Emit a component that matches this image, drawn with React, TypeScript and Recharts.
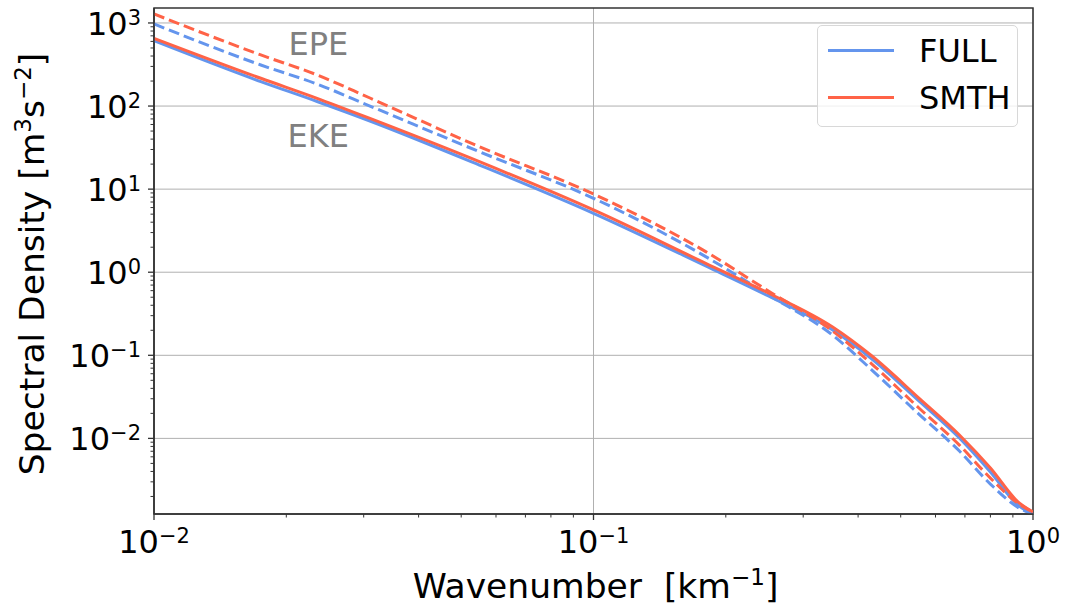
import React from "react";
import {
  LineChart,
  Line,
  XAxis,
  YAxis,
  CartesianGrid,
  Legend,
  ReferenceArea,
  ReferenceDot,
  Label,
} from "recharts";

// wavenumber [km^-1] and spectral densities
const waveNumber = [0.01, 0.0175, 0.0235, 0.031, 0.055, 0.1, 0.18, 0.25, 0.35, 0.43, 0.55, 0.68, 0.8, 0.93, 1.0];
const fullEke = [612, 197, 113.5, 66.1, 19.5, 5.12, 1.19, 0.517, 0.2015, 0.0902, 0.0282, 0.0101, 0.00394, 0.00153, 0.00123];
const smthEke = [654, 216, 124, 70.9, 21.4, 5.61, 1.28, 0.562, 0.219, 0.098, 0.0306, 0.011, 0.0044, 0.00167, 0.0013];
const fullEpe = [973, 312, 184, 100, 28.2, 7.76, 1.54, 0.532, 0.175, 0.0665, 0.0196, 0.00704, 0.00282, 0.00145, 0.00123];
const smthEpe = [1283, 412, 237, 125, 32.4, 8.74, 1.77, 0.594, 0.196, 0.0785, 0.0232, 0.00831, 0.00333, 0.00162, 0.0013];

const xMajorTicks = [0.01, 0.1, 1];
const yMajorTicks = [0.01, 0.1, 1, 10, 100, 1000];
const xDecades = [0.01, 0.1];
const yDecades = [0.001, 0.01, 0.1, 1, 10, 100];
const minorSteps = [2, 3, 4, 5, 6, 7, 8, 9];

const xDomain = [0.01, 1];
const yDomain = [0.00123, 1514];

const FONT = "'DejaVu Sans', sans-serif";
const BLUE = "#6495ED";
const RED = "#FF6347";
const SPINE = "#333";
const DASH = "11 5";

const data = waveNumber.map((k, i) => ({
  k,
  fullEke: fullEke[i],
  smthEke: smthEke[i],
  fullEpe: fullEpe[i],
  smthEpe: smthEpe[i],
}));

const minorTicks = (decades: number[], domain: number[]) =>
  decades
    .flatMap((d) => minorSteps.map((s) => +(d * s).toPrecision(3)))
    .filter((v) => v > domain[0] && v < domain[1]);

const xTicks = [...xMajorTicks, ...minorTicks(xDecades, xDomain)];
const yTicks = [...yMajorTicks, ...minorTicks(yDecades, yDomain)];

const isMajor = (v: number) => Math.abs(Math.log10(v) - Math.round(Math.log10(v))) < 1e-6;
const expText = (v: number) => String(Math.round(Math.log10(v))).replace("-", "\u2212");

function XTick(props: any) {
  const { x, y, payload } = props;
  const major = isMajor(payload.value);
  return (
    <g>
      <line x1={x} x2={x} y1={y} y2={y + (major ? 6 : 3.5)} stroke={SPINE} strokeWidth={major ? 1.3 : 1} />
      {major && (
        <text x={x} y={y + 39} textAnchor="middle" fontFamily={FONT} fontSize={32} fill="#000">
          10
          <tspan dy={-10} fontSize={21}>
            {expText(payload.value)}
          </tspan>
        </text>
      )}
    </g>
  );
}

function YTick(props: any) {
  const { x, y, payload } = props;
  const major = isMajor(payload.value);
  return (
    <g>
      <line x1={x} x2={x - (major ? 6 : 3.5)} y1={y} y2={y} stroke={SPINE} strokeWidth={major ? 1.3 : 1} />
      {major && (
        <text x={x - 13} y={y + 12} textAnchor="end" fontFamily={FONT} fontSize={32} fill="#000">
          10
          <tspan dy={-10} fontSize={21}>
            {expText(payload.value)}
          </tspan>
        </text>
      )}
    </g>
  );
}

function XLabel({ viewBox }: any) {
  return (
    <text x={viewBox.x + viewBox.width / 2 + 2} y={viewBox.y + 84} textAnchor="middle" fontFamily={FONT} fontSize={34.5} fill="#000">
      {"Wavenumber\u00a0 [km"}
      <tspan dy={-13} fontSize={23}>
        {"\u22121"}
      </tspan>
      <tspan dy={13}>]</tspan>
    </text>
  );
}

function YLabel({ viewBox }: any) {
  const cx = 44;
  const cy = viewBox.y + viewBox.height / 2 + 3;
  return (
    <text x={cx} y={cy} transform={`rotate(-90, ${cx}, ${cy})`} textAnchor="middle" fontFamily={FONT} fontSize={34.5} fill="#000">
      {"Spectral Density [m"}
      <tspan dy={-13} fontSize={23}>
        3
      </tspan>
      <tspan dy={13}>s</tspan>
      <tspan dy={-13} fontSize={23}>
        {"\u22122"}
      </tspan>
      <tspan dy={13}>]</tspan>
    </text>
  );
}

function LegendBox({ payload }: any) {
  const items = (payload || []).filter((p: any) => p.type !== "none");
  return (
    <div
      style={{
        width: 201,
        height: 102,
        boxSizing: "border-box",
        border: "1px solid #d8d8d8",
        borderRadius: 5,
        background: "rgba(255,255,255,0.8)",
        fontFamily: FONT,
        fontSize: 32,
        color: "#000",
        paddingTop: 1,
      }}
    >
      {items.map((item: any) => (
        <div key={item.value} style={{ display: "flex", alignItems: "center", height: 47 }}>
          <span style={{ display: "inline-block", width: 66, height: 3, marginLeft: 10, background: item.color }} />
          <span style={{ marginLeft: 25, lineHeight: "32px" }}>{item.value}</span>
        </div>
      ))}
    </div>
  );
}

export default function App() {
  return (
    <div style={{ position: "absolute", left: 0, top: 0, background: "#fff" }}>
      <LineChart width={1076} height={606} data={data} margin={{ top: 8, right: 43, bottom: 0, left: 0 }}>
        <CartesianGrid stroke="#b0b0b0" strokeWidth={1} verticalValues={xMajorTicks} horizontalValues={yMajorTicks} />
        <XAxis
          dataKey="k"
          type="number"
          scale="log"
          domain={xDomain}
          allowDataOverflow
          ticks={xTicks}
          interval={0}
          tick={<XTick />}
          tickLine={false}
          tickSize={0}
          tickMargin={0}
          axisLine={{ stroke: SPINE, strokeWidth: 1.5 }}
          height={92}
        >
          <Label content={<XLabel />} />
        </XAxis>
        <YAxis
          type="number"
          scale="log"
          domain={yDomain}
          allowDataOverflow
          ticks={yTicks}
          interval={0}
          tick={<YTick />}
          tickLine={false}
          tickSize={0}
          tickMargin={0}
          axisLine={{ stroke: SPINE, strokeWidth: 1.5 }}
          width={154}
        >
          <Label content={<YLabel />} />
        </YAxis>
        <ReferenceArea
          x1={xDomain[0]}
          x2={xDomain[1]}
          y1={yDomain[0]}
          y2={yDomain[1]}
          fill="none"
          fillOpacity={0}
          stroke={SPINE}
          strokeWidth={1.5}
          ifOverflow="visible"
        />
        <Line type="monotone" dataKey="fullEke" name="FULL" stroke={BLUE} strokeWidth={3} dot={false} isAnimationActive={false} />
        <Line type="monotone" dataKey="fullEpe" name="FULL EPE" legendType="none" stroke={BLUE} strokeWidth={3} strokeDasharray={DASH} dot={false} isAnimationActive={false} />
        <Line type="monotone" dataKey="smthEke" name="SMTH" stroke={RED} strokeWidth={3} dot={false} isAnimationActive={false} />
        <Line type="monotone" dataKey="smthEpe" name="SMTH EPE" legendType="none" stroke={RED} strokeWidth={3} strokeDasharray={DASH} dot={false} isAnimationActive={false} />
        <ReferenceDot x={0.02365} y={559} r={0} fill="none" stroke="none" ifOverflow="visible">
          <Label value="EPE" position="center" fill="#808080" fontSize={32} fontFamily={FONT} />
        </ReferenceDot>
        <ReferenceDot x={0.02365} y={43.6} r={0} fill="none" stroke="none" ifOverflow="visible">
          <Label value="EKE" position="center" fill="#808080" fontSize={32} fontFamily={FONT} />
        </ReferenceDot>
        <Legend
          layout="vertical"
          align="center"
          verticalAlign="middle"
          content={<LegendBox />}
          wrapperStyle={{ left: 817, top: 25, width: 201, height: 102 }}
        />
      </LineChart>
    </div>
  );
}
